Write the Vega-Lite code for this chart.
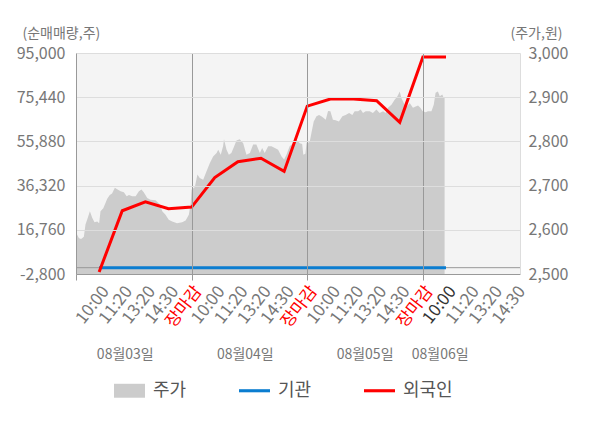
{
 "$schema": "https://vega.github.io/schema/vega-lite/v6.json",
 "width": 444,
 "height": 221,
 "autosize": {"type": "none"},
 "padding": {"left": 76, "top": 53, "right": 80, "bottom": 154},
 "background": "white",
 "config": {"font": "Noto Sans CJK KR", "view": {"fill": "#f4f4f4", "stroke": null}},
 "datasets": {
  "price": [
   {"t":0.00,"p":2594},{"t":0.13,"p":2581},{"t":0.22,"p":2579},{"t":0.34,"p":2584},{"t":0.41,"p":2612},{"t":0.51,"p":2627},{"t":0.60,"p":2642},{"t":0.70,"p":2627},{"t":0.80,"p":2617},{"t":0.92,"p":2619},{"t":1.00,"p":2615},{"t":1.06,"p":2642},{"t":1.18,"p":2649},{"t":1.28,"p":2661},{"t":1.35,"p":2670},{"t":1.46,"p":2679},{"t":1.56,"p":2682},{"t":1.68,"p":2695},{"t":1.78,"p":2692},{"t":1.93,"p":2687},{"t":2.07,"p":2685},{"t":2.19,"p":2676},{"t":2.29,"p":2679},{"t":2.43,"p":2676},{"t":2.58,"p":2676},{"t":2.72,"p":2687},{"t":2.83,"p":2691},{"t":2.93,"p":2685},{"t":3.08,"p":2672},{"t":3.22,"p":2668},{"t":3.44,"p":2667},{"t":3.63,"p":2657},{"t":3.73,"p":2642},{"t":3.87,"p":2634},{"t":4.01,"p":2623},{"t":4.16,"p":2619},{"t":4.37,"p":2615},{"t":4.59,"p":2617},{"t":4.74,"p":2621},{"t":4.88,"p":2634},{"t":4.96,"p":2660},
   {"t":5.00,"p":2691},{"t":5.14,"p":2697},{"t":5.25,"p":2725},{"t":5.35,"p":2717},{"t":5.50,"p":2713},{"t":5.64,"p":2732},{"t":5.79,"p":2751},{"t":5.93,"p":2766},{"t":6.08,"p":2774},{"t":6.15,"p":2781},{"t":6.26,"p":2770},{"t":6.36,"p":2789},{"t":6.40,"p":2805},{"t":6.51,"p":2781},{"t":6.61,"p":2770},{"t":6.72,"p":2774},{"t":6.84,"p":2789},{"t":6.94,"p":2802},{"t":7.08,"p":2805},{"t":7.23,"p":2796},{"t":7.37,"p":2770},{"t":7.52,"p":2774},{"t":7.66,"p":2793},{"t":7.80,"p":2793},{"t":7.95,"p":2774},{"t":8.05,"p":2785},{"t":8.16,"p":2774},{"t":8.31,"p":2789},{"t":8.45,"p":2789},{"t":8.60,"p":2785},{"t":8.74,"p":2781},{"t":8.89,"p":2766},{"t":9.00,"p":2759},{"t":9.10,"p":2770},{"t":9.24,"p":2789},{"t":9.39,"p":2796},{"t":9.53,"p":2804},{"t":9.68,"p":2796},{"t":9.78,"p":2794},{"t":9.83,"p":2770},{"t":9.92,"p":2772},{"t":9.97,"p":2797},
   {"t":10.05,"p":2797},{"t":10.11,"p":2800},{"t":10.18,"p":2819},{"t":10.28,"p":2845},{"t":10.40,"p":2857},{"t":10.51,"p":2860},{"t":10.61,"p":2857},{"t":10.71,"p":2853},{"t":10.80,"p":2849},{"t":10.90,"p":2869},{"t":11.00,"p":2868},{"t":11.11,"p":2849},{"t":11.23,"p":2848},{"t":11.37,"p":2845},{"t":11.52,"p":2857},{"t":11.66,"p":2860},{"t":11.81,"p":2864},{"t":11.95,"p":2860},{"t":12.05,"p":2868},{"t":12.20,"p":2868},{"t":12.31,"p":2872},{"t":12.41,"p":2864},{"t":12.53,"p":2868},{"t":12.70,"p":2868},{"t":12.84,"p":2864},{"t":12.99,"p":2872},{"t":13.13,"p":2864},{"t":13.28,"p":2868},{"t":13.39,"p":2864},{"t":13.49,"p":2876},{"t":13.64,"p":2883},{"t":13.78,"p":2894},{"t":13.90,"p":2902},{"t":14.00,"p":2913},{"t":14.07,"p":2898},{"t":14.21,"p":2883},{"t":14.31,"p":2879},{"t":14.43,"p":2887},{"t":14.57,"p":2876},{"t":14.69,"p":2879},{"t":14.79,"p":2881},{"t":14.89,"p":2876},{"t":14.97,"p":2870},
   {"t":15.00,"p":2868},{"t":15.12,"p":2866},{"t":15.22,"p":2868},{"t":15.37,"p":2868},{"t":15.47,"p":2883},{"t":15.55,"p":2910},{"t":15.65,"p":2913},{"t":15.73,"p":2902},{"t":15.84,"p":2906},{"t":15.90,"p":2898},{"t":15.94,"p":2899}
  ],
  "flow": [
   {"t":1,"inst":0,"foreign":-1900},{"t":2,"inst":0,"foreign":25200},{"t":3,"inst":0,"foreign":29100},{"t":4,"inst":0,"foreign":26100},{"t":5,"inst":0,"foreign":26800},{"t":6,"inst":0,"foreign":39900},{"t":7,"inst":0,"foreign":46900},{"t":8,"inst":0,"foreign":48400},{"t":9,"inst":0,"foreign":42600},{"t":10,"inst":0,"foreign":71500},{"t":11,"inst":0,"foreign":74600},{"t":12,"inst":0,"foreign":74600},{"t":13,"inst":0,"foreign":73900},{"t":14,"inst":0,"foreign":64300},{"t":15,"inst":0,"foreign":93200},{"t":16,"inst":0,"foreign":93200}
  ],
  "zero": [{"v": 0}]
 },
 "layer": [
  {
   "data": {"name": "price"},
   "mark": {"type": "area", "interpolate": "linear"},
   "encoding": {
    "x": {"field": "t", "type": "quantitative", "scale": {"domain": [0, 19.2], "nice": false, "zero": false},
     "axis": {"title": null, "values": [0,1,2,3,4,5,6,7,8,9,10,11,12,13,14,15,16,17,18,19],
      "labelExpr": "datum.value == 0 ? '' : datum.value % 5 == 0 ? '장마감' : ['','10:00','11:20','13:20','14:30'][datum.value % 5]",
      "labelAngle": -52, "labelAlign": "right", "labelBaseline": "top", "labelFontSize": 17,
      "labelColor": {"condition": [{"test": "datum.value % 5 == 0", "value": "#ff0000"}, {"test": "datum.value == 16", "value": "#333333"}], "value": "#777777"},
      "labelPadding": 3, "labelOverlap": false, "labelBound": false, "labelFlush": false,
      "tickSize": 6, "tickColor": {"condition": {"test": "datum.value % 5 == 0", "value": "#999999"}, "value": "transparent"},
      "domainColor": "#999999", "grid": true,
      "gridColor": {"condition": {"test": "datum.value % 5 == 0 && datum.value > 0", "value": "#999999"}, "value": "transparent"},
      "zindex": 1}},
    "y": {"field": "p", "type": "quantitative", "scale": {"domain": [2500, 3000], "nice": false, "zero": false},
     "axis": {"orient": "right", "title": "(주가,원)", "titleAngle": 0, "titleAlign": "left", "titleBaseline": "middle", "titleX": -10, "titleY": -20, "titleFontSize": 14, "titleFontWeight": "normal", "titleColor": "#777777",
      "values": [2500,2600,2700,2800,2900,3000], "labelExpr": "format(datum.value, ',')", "labelFontSize": 16, "labelColor": "#777777", "labelPadding": 8, "ticks": false, "domainColor": "#dddddd", "grid": false, "zindex": 1}},
    "y2": {"datum": 2500},
    "color": {"datum": "주가", "type": "nominal",
     "scale": {"domain": ["주가", "기관", "외국인"], "range": ["#cccccc", "#0b7dd0", "#ff0000"]},
     "legend": {"orient": "none", "legendX": 38, "legendY": 322, "direction": "horizontal", "title": null,
      "labelFontSize": 18, "labelColor": "#555555", "symbolSize": 961, "columnPadding": 52, "labelOffset": 8,
      "encode": {"symbols": {"update": {
       "shape": {"signal": "datum.value == '주가' ? 'M-1,-0.45H1V0.45H-1Z' : 'M-1,-0.1H1V0.1H-1Z'"},
       "fill": {"scale": "color", "field": "value"},
       "strokeWidth": {"value": 0},
       "size": {"value": 961}}}}}}
   }
  },
  {
   "layer": [
    {
     "data": {"name": "zero"},
     "mark": {"type": "rule", "color": "#999999", "strokeWidth": 1},
     "encoding": {
      "y": {"field": "v", "type": "quantitative", "scale": {"domain": [-2800, 95000], "nice": false, "zero": false},
       "axis": {"orient": "left", "title": "(순매매량,주)", "titleAngle": 0, "titleAlign": "left", "titleBaseline": "middle", "titleX": -54, "titleY": -20, "titleFontSize": 14, "titleFontWeight": "normal", "titleColor": "#777777",
        "values": [-2800,16760,36320,55880,75440,95000], "labelExpr": "datum.value < 0 ? '-' + format(-datum.value, ',') : format(datum.value, ',')",
        "labelFontSize": 16, "labelColor": "#777777", "labelPadding": 11, "ticks": false, "domainColor": "#999999", "grid": true, "gridColor": "#dddddd", "zindex": 1}}
     }
    },
    {
     "data": {"name": "flow"},
     "mark": {"type": "line", "strokeWidth": 3},
     "encoding": {
      "x": {"field": "t", "type": "quantitative", "scale": {"domain": [0, 19.2], "nice": false, "zero": false},
       "axis": {"orient": "bottom", "title": null, "values": [2.11, 7.3, 12.48, 15.73],
        "labelExpr": "datum.value < 5 ? '08월03일' : datum.value < 10 ? '08월04일' : datum.value < 15 ? '08월05일' : '08월06일'",
        "labelAngle": 0, "labelAlign": "center", "labelBaseline": "middle", "labelPadding": 80, "labelFontSize": 14, "labelColor": "#777777",
        "ticks": false, "domain": false, "grid": false, "labelOverlap": false, "labelBound": false, "labelFlush": false}},
      "y": {"field": "inst", "type": "quantitative", "scale": {"domain": [-2800, 95000], "nice": false, "zero": false},
       "axis": {"orient": "left", "title": "(순매매량,주)", "titleAngle": 0, "titleAlign": "left", "titleBaseline": "middle", "titleX": -54, "titleY": -20, "titleFontSize": 14, "titleFontWeight": "normal", "titleColor": "#777777",
        "values": [-2800,16760,36320,55880,75440,95000], "labelExpr": "datum.value < 0 ? '-' + format(-datum.value, ',') : format(datum.value, ',')",
        "labelFontSize": 16, "labelColor": "#777777", "labelPadding": 11, "ticks": false, "domainColor": "#999999", "grid": true, "gridColor": "#dddddd", "zindex": 1}},
      "color": {"datum": "기관", "type": "nominal"}
     }
    },
    {
     "data": {"name": "flow"},
     "mark": {"type": "line", "strokeWidth": 3},
     "encoding": {
      "x": {"field": "t", "type": "quantitative", "scale": {"domain": [0, 19.2], "nice": false, "zero": false},
       "axis": {"orient": "bottom", "title": null, "values": [2.11, 7.3, 12.48, 15.73],
        "labelExpr": "datum.value < 5 ? '08월03일' : datum.value < 10 ? '08월04일' : datum.value < 15 ? '08월05일' : '08월06일'",
        "labelAngle": 0, "labelAlign": "center", "labelBaseline": "middle", "labelPadding": 80, "labelFontSize": 14, "labelColor": "#777777",
        "ticks": false, "domain": false, "grid": false, "labelOverlap": false, "labelBound": false, "labelFlush": false}},
      "y": {"field": "foreign", "type": "quantitative", "scale": {"domain": [-2800, 95000], "nice": false, "zero": false},
       "axis": {"orient": "left", "title": "(순매매량,주)", "titleAngle": 0, "titleAlign": "left", "titleBaseline": "middle", "titleX": -54, "titleY": -20, "titleFontSize": 14, "titleFontWeight": "normal", "titleColor": "#777777",
        "values": [-2800,16760,36320,55880,75440,95000], "labelExpr": "datum.value < 0 ? '-' + format(-datum.value, ',') : format(datum.value, ',')",
        "labelFontSize": 16, "labelColor": "#777777", "labelPadding": 11, "ticks": false, "domainColor": "#999999", "grid": true, "gridColor": "#dddddd", "zindex": 1}},
      "color": {"datum": "외국인", "type": "nominal"}
     }
    }
   ]
  }
 ],
 "resolve": {"scale": {"y": "independent"}, "axis": {"x": "independent", "y": "independent"}}
}
